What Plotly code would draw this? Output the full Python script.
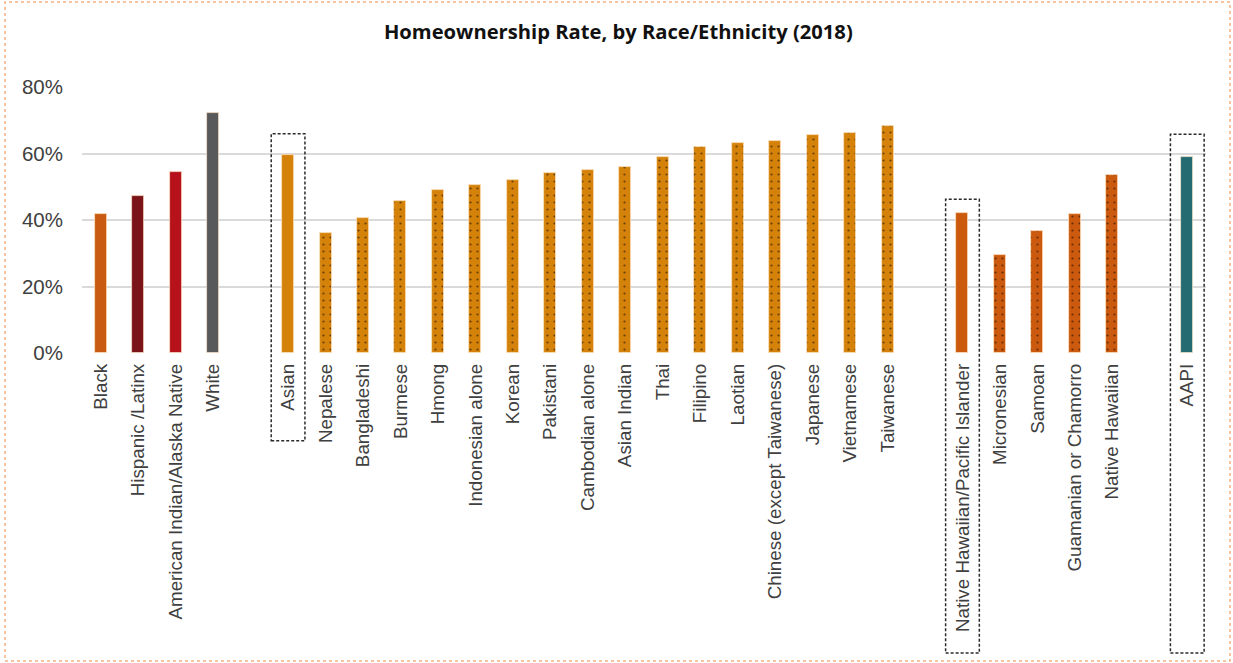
import plotly.graph_objects as go

W, H = 1233, 663

# ---- data ----
race_labels = ["Black", "Hispanic /Latinx", "American Indian/Alaska Native", "White"]
race_values = [41.7, 47.3, 54.5, 72.3]
race_colors = ["#C85A12", "#7B1418", "#B5121B", "#58595B"]

asian_total_label = ["Asian"]
asian_total_value = [59.6]
asian_labels = ["Nepalese", "Bangladeshi", "Burmese", "Hmong", "Indonesian alone", "Korean",
                "Pakistani", "Cambodian alone", "Asian Indian", "Thai", "Filipino", "Laotian",
                "Chinese (except Taiwanese)", "Japanese", "Vietnamese", "Taiwanese"]
asian_values = [36.0, 40.7, 45.8, 48.9, 50.4, 51.9, 54.0, 55.0, 56.0, 59.0, 62.1, 63.2,
                63.7, 65.7, 66.2, 68.4]

nhpi_total_label = ["Native Hawaiian/Pacific Islander"]
nhpi_total_value = [42.2]
nhpi_labels = ["Micronesian", "Samoan", "Guamanian or Chamorro", "Native Hawaiian"]
nhpi_values = [29.4, 36.6, 41.7, 53.4]

aapi_label = ["AAPI"]
aapi_value = [59.0]

y_tickvals = [0, 20, 40, 60, 80]
y_ticktext = ["0%", "20%", "40%", "60%", "80%"]

ASIAN_COLOR = "#D4820A"
NHPI_COLOR = "#CC5A0E"
AAPI_COLOR = "#236B71"

# ---- positions (groups separated by one empty slot) ----
groups = [race_labels, asian_total_label + asian_labels,
          nhpi_total_label + nhpi_labels, aapi_label]
positions = []
pos = 0
for g in groups:
    grp = []
    for _ in g:
        grp.append(pos)
        pos += 1
    positions.append(grp)
    pos += 1

race_x = positions[0]
asian_total_x = positions[1][:1]
asian_x = positions[1][1:]
nhpi_total_x = positions[2][:1]
nhpi_x = positions[2][1:]
aapi_x = positions[3]

all_x = [x for g in positions for x in g]
all_labels = [l for g in groups for l in g]

BAR_W = 0.32
outline = dict(color="rgba(255,230,200,0.9)", width=0.8)


def dots(bg):
    return dict(shape=".", fgcolor="#000000", bgcolor=bg, size=7,
                solidity=0.08, fillmode="overlay")


fig = go.Figure()
fig.add_trace(go.Bar(x=race_x, y=race_values, width=BAR_W,
                     marker=dict(color=race_colors, line=outline)))
fig.add_trace(go.Bar(x=asian_total_x, y=asian_total_value, width=BAR_W,
                     marker=dict(color=ASIAN_COLOR, line=outline)))
fig.add_trace(go.Bar(x=asian_x, y=asian_values, width=BAR_W,
                     marker=dict(color=ASIAN_COLOR, line=outline, pattern=dots(ASIAN_COLOR))))
fig.add_trace(go.Bar(x=nhpi_total_x, y=nhpi_total_value, width=BAR_W,
                     marker=dict(color=NHPI_COLOR, line=outline)))
fig.add_trace(go.Bar(x=nhpi_x, y=nhpi_values, width=BAR_W,
                     marker=dict(color=NHPI_COLOR, line=outline, pattern=dots(NHPI_COLOR))))
fig.add_trace(go.Bar(x=aapi_x, y=aapi_value, width=BAR_W,
                     marker=dict(color=AAPI_COLOR, line=outline)))

# ---- layout geometry ----
ML, MR, MT, MB = 82, 27, 87, 310
PW, PH = W - ML - MR, H - MT - MB


def px_to_paper_x(px):
    return (px - ML) / PW


def px_to_paper_y(py):
    return (H - MB - py) / PH


shapes = []
box_defs = [(asian_total_x[0], 133.7, 440.7),
            (nhpi_total_x[0], 199.3, 653.0),
            (aapi_x[0], 134.3, 653.0)]
for xc, top_px, bot_px in box_defs:
    shapes.append(dict(type="rect", xref="x", yref="paper",
                       x0=xc - 0.45, x1=xc + 0.45,
                       y0=px_to_paper_y(bot_px), y1=px_to_paper_y(top_px),
                       line=dict(color="#2A2A2A", width=1.5, dash="3px,2px"),
                       fillcolor="rgba(0,0,0,0)", layer="above"))
shapes.append(dict(type="rect", xref="paper", yref="paper",
                   x0=px_to_paper_x(5), x1=px_to_paper_x(1230),
                   y0=px_to_paper_y(661), y1=px_to_paper_y(2),
                   line=dict(color="#F4B183", width=1.5, dash="dot"),
                   fillcolor="rgba(0,0,0,0)", layer="below"))

fig.update_layout(
    width=W, height=H,
    margin=dict(l=ML, r=MR, t=MT, b=MB),
    paper_bgcolor="white", plot_bgcolor="white",
    showlegend=False,
    bargap=0,
    title=dict(text="<b>Homeownership Rate, by Race/Ethnicity (2018)</b>",
               x=0.5015, xanchor="center", y=1 - 32 / H, yanchor="middle",
               font=dict(family="Open Sans, Arial, sans-serif", size=20.2, color="#111111")),
    font=dict(family="Liberation Sans, Arial, sans-serif", color="#404040"),
    shapes=shapes,
)
fig.update_xaxes(range=[all_x[0] - 0.5, all_x[-1] + 0.5], tickmode="array", tickvals=all_x,
                 ticktext=all_labels, tickangle=-90, showgrid=False, zeroline=False,
                 showline=False, ticks="", ticklabelstandoff=6,
                 tickfont=dict(size=18.8, color="#404040"))
fig.update_yaxes(range=[0, 80], tickmode="array", tickvals=y_tickvals, ticktext=y_ticktext,
                 showgrid=True, gridcolor="#DADADA", gridwidth=1.5, zeroline=False,
                 showline=False, ticks="", ticklabelstandoff=18,
                 tickfont=dict(size=20.5, color="#404040"))

fig.write_html("out.html", config={"displayModeBar": False},
               post_script="document.body.style.margin='0';document.body.style.overflow='hidden';")
